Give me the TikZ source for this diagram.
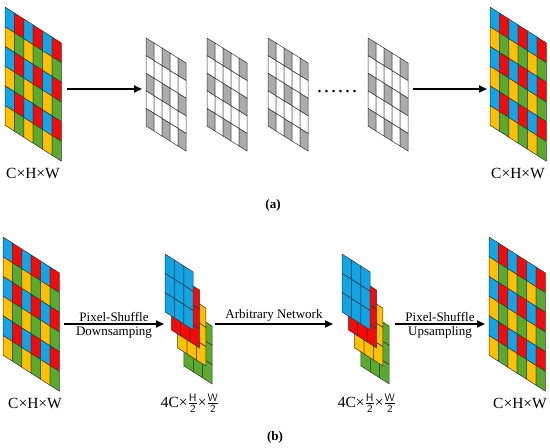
\documentclass[tikz,border=0pt]{standalone}
\usepackage{fontspec}
\setmainfont{Liberation Serif}
\usetikzlibrary{arrows.meta}
\definecolor{bay0}{HTML}{10A5E6}
\definecolor{bay1}{HTML}{F50A0A}
\definecolor{bay2}{HTML}{FFC000}
\definecolor{bay3}{HTML}{5AAA2E}
\colorlet{mask0}{white}
\colorlet{mask1}{black!33}
\tikzset{
  cell/.style={draw=black!80, line width=0.5pt, line join=miter},
  flow/.style={line width=1.8pt, -{Triangle[length=8pt,width=7pt]}},
  dimlabel/.style={font=\fontsize{15.5}{18}\selectfont},
  steplabel/.style={font=\fontsize{13}{15}\selectfont, inner sep=1.5pt},
  panel/.style={font=\bfseries\fontsize{13}{15}\selectfont},
}
% 6x6 raw mosaic, top-left corner at #1,#2
\newcommand{\bayergrid}[2]{%
  \begin{scope}[shift={(#1,#2)}, x={(9.4pt,-6pt)}, y={(0pt,-19.7pt)}]
    \foreach \i in {0,...,5}
      \foreach \j in {0,...,5} {
        \pgfmathtruncatemacro{\k}{mod(\i,2)+2*mod(\j,2)}
        \filldraw[cell, fill=bay\k] (\i,\j) -- ++(1,0) -- ++(0,1) -- ++(-1,0) -- cycle;
      }
  \end{scope}}
% 5x5 window with grey taps
\newcommand{\maskgrid}[2]{%
  \begin{scope}[shift={(#1,#2)}, x={(8pt,-5pt)}, y={(0pt,-17.6pt)}]
    \foreach \i in {0,...,4}
      \foreach \j in {0,...,4} {
        \pgfmathtruncatemacro{\k}{mod(\i+1,2)*mod(\j+1,2)}
        \filldraw[cell, fill=mask\k] (\i,\j) -- ++(1,0) -- ++(0,1) -- ++(-1,0) -- cycle;
      }
  \end{scope}}
% four 3x3 sub-images, back to front
\newcommand{\chanstack}[2]{%
  \foreach \lay/\col in {3/bay3,2/bay2,1/bay1,0/bay0} {
    \begin{scope}[shift={(#1+6.3*\lay,#2+18*\lay)}, x={(9.4pt,-6pt)}, y={(0pt,-19.3pt)}]
      \foreach \i in {0,1,2}
        \foreach \j in {0,1,2}
          \filldraw[cell, fill=\col] (\i,\j) -- ++(1,0) -- ++(0,1) -- ++(-1,0) -- cycle;
    \end{scope}
  }}

\begin{document}
\begin{tikzpicture}[x=1pt, y=-1pt]
\useasboundingbox (0,0) rectangle (550,448);
% (a)
\bayergrid{5}{7}
\maskgrid{146}{38}
\maskgrid{207}{38}
\maskgrid{268}{38}
\maskgrid{368}{38}
\bayergrid{490}{7}
\node[font=\fontsize{21}{24}\selectfont, anchor=base] (gap) at (337,92) {……};
\coordinate (rawA) at (67,89);
\coordinate (winA) at (142,89);
\coordinate (winZ) at (413,89);
\coordinate (outA) at (487,89);
\draw[flow] (rawA) -- (winA);
\draw[flow] (winZ) -- (outA);
\node[dimlabel] (dimA1) at (33,173) {C×H×W};
\node[dimlabel] (dimA2) at (518,173) {C×H×W};
\node[panel] (capA) at (273,205) {(a)};
% (b)
\bayergrid{3}{237}
\chanstack{165}{254}
\chanstack{342}{254}
\bayergrid{489}{237}
\coordinate (rawB) at (64,324);
\coordinate (subIn) at (164,324);
\coordinate (subMid) at (215,324);
\coordinate (subOut) at (333,324);
\coordinate (upIn) at (395,324);
\coordinate (outB) at (485,324);
\draw[flow] (rawB) -- node[steplabel, above] (psdTop) {Pixel-Shuffle}
  node[steplabel, below] (psdBot) {Downsamping} (subIn);
\draw[flow] (subMid) -- node[steplabel, above] (net) {Arbitrary Network} (subOut);
\draw[flow] (upIn) -- node[steplabel, above] (psuTop) {Pixel-Shuffle}
  node[steplabel, below] (psuBot) {Upsampling} (outB);
\node[dimlabel] (dimB1) at (35,403) {C×H×W};
\node[dimlabel] (dimB2) at (190,403) {4C×$\frac{\mathsf{H}}{\mathsf{2}}$×$\frac{\mathsf{W}}{\mathsf{2}}$};
\node[dimlabel] (dimB3) at (367,403) {4C×$\frac{\mathsf{H}}{\mathsf{2}}$×$\frac{\mathsf{W}}{\mathsf{2}}$};
\node[dimlabel] (dimB4) at (520,403) {C×H×W};
\node[panel] (capB) at (275,437) {(b)};
\end{tikzpicture}
\end{document}
